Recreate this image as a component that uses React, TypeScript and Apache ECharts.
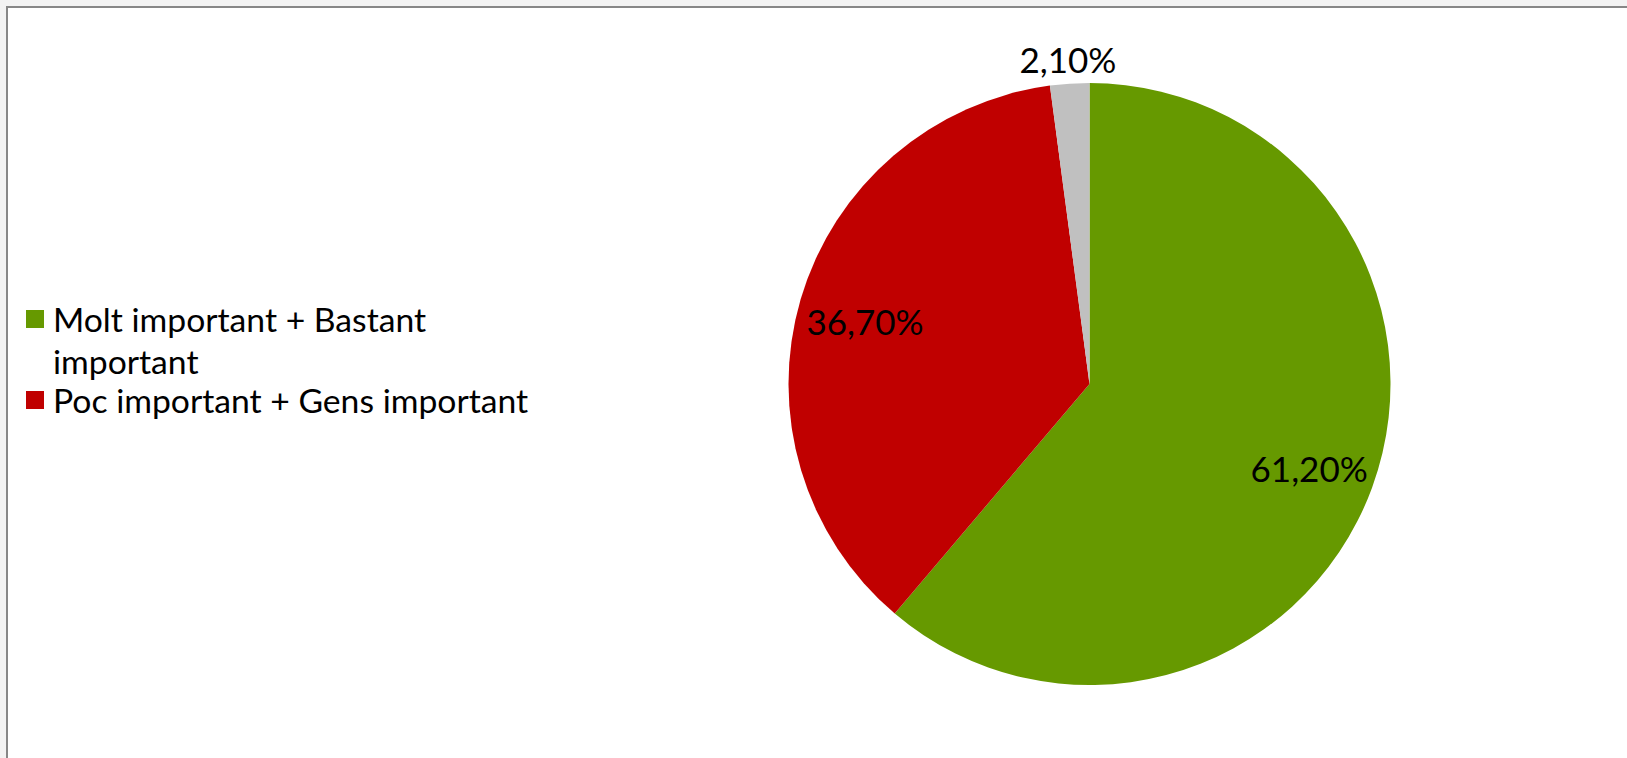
import React, { useEffect, useRef } from "react";
import * as echarts from "echarts";

const categories = [
  "Molt important + Bastant important",
  "Poc important + Gens important",
  "NS/NC",
];
const values = [61.2, 36.7, 2.1];
const colors = ["#669900", "#C00000", "#C0C0C0"];
const legendNames = [categories[0], categories[1]];

const FONT = "Lato";

function wrapLines(name: string, maxChars: number): string[] {
  const words = name.split(" ");
  const lines: string[] = [];
  let cur = "";
  for (const w of words) {
    const next = cur ? cur + " " + w : w;
    if (next.length > maxChars && cur) {
      lines.push(cur);
      cur = w;
    } else {
      cur = next;
    }
  }
  if (cur) lines.push(cur);
  return lines;
}

// first line aligned with the legend marker: pad the top with blank lines
function legendText(name: string): string {
  const lines = wrapLines(name, 30);
  const pad: string[] = [];
  for (let i = 1; i < lines.length; i++) pad.push(" ");
  return pad.concat(lines).join("\n");
}

function fmtPct(v: number): string {
  return v.toFixed(2).replace(".", ",") + "%";
}

export default function App() {
  const ref = useRef<HTMLDivElement>(null);
  useEffect(() => {
    document.body.style.margin = "0";
    const chart = echarts.init(ref.current!, null, { renderer: "svg" });
    const center = [1089.5, 384];
    const R = 301;
    const baseData = categories.map((n, i) => ({
      name: n,
      value: values[i],
      itemStyle: { color: colors[i] },
    }));
    const labelStyle = {
      fontFamily: FONT,
      fontSize: 35,
      color: "#000",
      offset: [0, 3],
    };
    const legendTextStyle = {
      fontFamily: FONT,
      fontSize: 33.7,
      color: "#000",
      lineHeight: 42,
      padding: [0, 0, 0, 4],
    };
    chart.setOption({
      animation: false,
      backgroundColor: "#f3f3f3",
      graphic: [
        {
          type: "rect",
          shape: { x: 7, y: 7, width: 1700, height: 800 },
          style: { fill: "#ffffff", stroke: "#878787", lineWidth: 2 },
          silent: true,
          z: -10,
        },
      ],
      legend: [
        {
          data: [legendNames[0]],
          orient: "vertical",
          left: 26,
          top: 256,
          padding: 0,
          icon: "rect",
          itemWidth: 18,
          itemHeight: 18,
          formatter: legendText,
          textStyle: legendTextStyle,
        },
        {
          data: [legendNames[1]],
          orient: "vertical",
          left: 26,
          top: 379,
          padding: 0,
          icon: "rect",
          itemWidth: 18,
          itemHeight: 18,
          formatter: legendText,
          textStyle: legendTextStyle,
        },
      ],
      series: [
        {
          type: "pie",
          center,
          radius: [0, R],
          startAngle: 90,
          clockwise: true,
          label: { show: false },
          labelLine: { show: false },
          itemStyle: { borderWidth: 0 },
          emphasis: { disabled: true },
          data: baseData,
        },
        {
          type: "pie",
          center,
          radius: [161, R],
          startAngle: 90,
          clockwise: true,
          silent: true,
          legendHoverLink: false,
          labelLine: { show: false },
          itemStyle: { color: "rgba(0,0,0,0)", borderWidth: 0 },
          emphasis: { disabled: true },
          data: categories.map((n, i) => ({
            name: n,
            value: values[i],
            label: {
              show: i < 2,
              position: "inside",
              formatter: () => fmtPct(values[i]),
              ...labelStyle,
            },
          })),
        },
        {
          type: "pie",
          center,
          radius: [R, 350],
          startAngle: 90,
          clockwise: true,
          silent: true,
          legendHoverLink: false,
          labelLine: { show: false },
          itemStyle: { color: "rgba(0,0,0,0)", borderWidth: 0 },
          emphasis: { disabled: true },
          data: categories.map((n, i) => ({
            name: n,
            value: values[i],
            label: {
              show: i === 2,
              position: "inside",
              formatter: () => fmtPct(values[i]),
              ...labelStyle,
            },
          })),
        },
      ],
    });
    return () => chart.dispose();
  }, []);
  return (
    <div
      ref={ref}
      style={{ position: "absolute", left: 0, top: 0, width: 1627, height: 758 }}
    />
  );
}
